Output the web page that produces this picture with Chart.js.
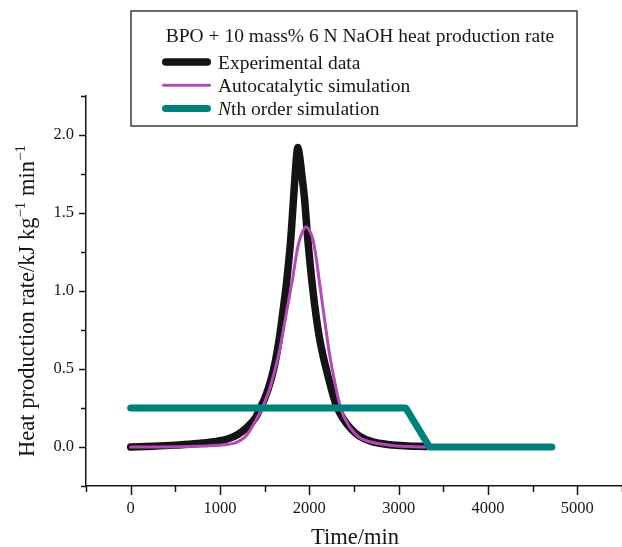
<!DOCTYPE html>
<html>
<head>
<meta charset="utf-8">
<title>BPO heat production rate</title>
<script src="https://cdn.jsdelivr.net/npm/chart.js@4/dist/chart.umd.min.js"></script>
<style>
  html, body { margin: 0; padding: 0; background: #fff; overflow: hidden; }
  /* a little wider than the window so the x axis runs off the right edge */
  #wrap { width: 626px; height: 547px; position: relative; }
</style>
</head>
<body>
<div id="wrap"><canvas id="heatChart"></canvas></div>
<script>
// experimental heat production rate (time in min, rate in kJ/kg/min)
const expTime = [0, 250, 500, 750, 1000, 1100, 1200, 1300, 1400, 1450, 1500, 1570, 1620, 1665, 1700, 1740, 1790, 1830, 1855, 1870, 1890, 1915, 1945, 1980, 2035, 2110, 2220, 2300, 2380, 2460, 2560, 2700, 2900, 3100, 3300];
const expRate = [0.0, 0.005, 0.012, 0.022, 0.04, 0.055, 0.08, 0.125, 0.19, 0.25, 0.31, 0.43, 0.55, 0.7, 0.85, 1.03, 1.32, 1.65, 1.85, 1.92, 1.87, 1.75, 1.6, 1.35, 1.03, 0.71, 0.43, 0.27, 0.18, 0.12, 0.07, 0.035, 0.015, 0.007, 0.003];

// autocatalytic model
const autoTime = [0, 1000, 1290, 1400, 1480, 1560, 1660, 1740, 1810, 1870, 1910, 1960, 2000, 2040, 2080, 2110, 2170, 2225, 2290, 2355, 2450, 2550, 2640, 2930, 3300];
const autoRate = [0.0, 0.012, 0.07, 0.17, 0.26, 0.38, 0.6, 0.85, 1.07, 1.28, 1.36, 1.41, 1.39, 1.33, 1.2, 1.07, 0.82, 0.6, 0.4, 0.24, 0.13, 0.065, 0.04, 0.01, 0.0];

// nth order model
const nthTime = [0, 3080, 3345, 4715];
const nthRate = [0.25, 0.25, 0.0, 0.0];

const seriesLabels = ['Experimental data', 'Autocatalytic simulation', 'Nth order simulation'];
const chartTitle = 'BPO + 10 mass% 6 N NaOH heat production rate';

const serif = "'Liberation Serif', 'Times New Roman', serif";
const ink = '#161616';

function pairs(xs, ys) {
  return xs.map((x, i) => ({ x: x, y: ys[i] }));
}

// tick marks (long at labelled values), axis titles and the boxed legend
const decorations = {
  id: 'decorations',
  afterDraw(chart) {
    const { ctx, chartArea, scales } = chart;
    const xs = scales.x, ys = scales.y;
    ctx.save();
    ctx.strokeStyle = ink;
    ctx.lineWidth = 1.5;

    xs.ticks.forEach(t => {
      const px = Math.round(xs.getPixelForValue(t.value)) + 0.5;
      const len = t.value % 1000 === 0 ? 9 : 6;
      ctx.beginPath();
      ctx.moveTo(px, chartArea.bottom);
      ctx.lineTo(px, chartArea.bottom + len);
      ctx.stroke();
    });
    ys.ticks.forEach(t => {
      const py = Math.round(ys.getPixelForValue(t.value)) + 0.5;
      const len = Math.abs(t.value * 2 - Math.round(t.value * 2)) < 1e-9 ? 7 : 5;
      ctx.beginPath();
      ctx.moveTo(chartArea.left, py);
      ctx.lineTo(chartArea.left - len, py);
      ctx.stroke();
    });

    // x title
    ctx.fillStyle = ink;
    ctx.font = '22.5px ' + serif;
    ctx.textAlign = 'center';
    ctx.textBaseline = 'alphabetic';
    ctx.fillText('Time/min', 355, 544);

    // y title with superscripts
    const parts = [
      { text: 'Heat production rate/kJ kg', sup: false },
      { text: '\u22121', sup: true },
      { text: ' min', sup: false },
      { text: '\u22121', sup: true }
    ];
    const mainFont = '22.5px ' + serif;
    const supFont = '15px ' + serif;
    let total = 0;
    parts.forEach(p => {
      ctx.font = p.sup ? supFont : mainFont;
      p.w = ctx.measureText(p.text).width;
      total += p.w;
    });
    ctx.translate(34, 301);
    ctx.rotate(-Math.PI / 2);
    ctx.textAlign = 'left';
    let cx = -total / 2;
    parts.forEach(p => {
      ctx.font = p.sup ? supFont : mainFont;
      ctx.fillText(p.text, cx, p.sup ? -9 : 0);
      cx += p.w;
    });
    ctx.setTransform(1, 0, 0, 1, 0, 0);

    // legend box
    const bx = 131, by = 11, bw = 446, bh = 115;
    ctx.fillStyle = '#fff';
    ctx.fillRect(bx, by, bw, bh);
    ctx.strokeStyle = '#3a3a3a';
    ctx.lineWidth = 1.5;
    ctx.strokeRect(bx, by, bw, bh);

    ctx.fillStyle = ink;
    ctx.font = '19.5px ' + serif;
    ctx.textAlign = 'center';
    ctx.fillText(chartTitle, bx + bw / 2 + 6, 42);

    ctx.textAlign = 'left';
    chart.data.datasets.forEach((ds, i) => {
      const rowY = 62 + i * 23.3;
      ctx.strokeStyle = ds.borderColor;
      ctx.lineWidth = ds.borderWidth;
      ctx.lineCap = 'round';
      const r = ds.borderWidth / 2;
      ctx.beginPath();
      ctx.moveTo(162 + r, rowY);
      ctx.lineTo(211 - r, rowY);
      ctx.stroke();

      let tx = 218;
      const ty = rowY + 6.5;
      ctx.fillStyle = ink;
      if (ds.italicLead) {
        const lead = ds.label.slice(0, ds.italicLead);
        ctx.font = 'italic 19.5px ' + serif;
        ctx.fillText(lead, tx, ty);
        tx += ctx.measureText(lead).width;
        ctx.font = '19.5px ' + serif;
        ctx.fillText(ds.label.slice(ds.italicLead), tx, ty);
      } else {
        ctx.font = '19.5px ' + serif;
        ctx.fillText(ds.label, tx, ty);
      }
    });
    ctx.restore();
  }
};

const ctx = document.getElementById('heatChart').getContext('2d');
new Chart(ctx, {
  type: 'line',
  data: {
    datasets: [
      {
        label: seriesLabels[0],
        data: pairs(expTime, expRate),
        borderColor: '#141414',
        borderWidth: 7.5,
        borderCapStyle: 'round',
        borderJoinStyle: 'round',
        cubicInterpolationMode: 'monotone',
        pointRadius: 0,
        order: 3
      },
      {
        label: seriesLabels[1],
        data: pairs(autoTime, autoRate),
        borderColor: '#b848b6',
        borderWidth: 3,
        borderCapStyle: 'round',
        borderJoinStyle: 'round',
        cubicInterpolationMode: 'monotone',
        pointRadius: 0,
        order: 2
      },
      {
        label: seriesLabels[2],
        italicLead: 1,
        data: pairs(nthTime, nthRate),
        borderColor: '#00807d',
        borderWidth: 7,
        borderCapStyle: 'round',
        borderJoinStyle: 'round',
        tension: 0,
        pointRadius: 0,
        order: 1
      }
    ]
  },
  options: {
    responsive: true,
    maintainAspectRatio: false,
    animation: false,
    devicePixelRatio: 1,
    layout: { padding: { top: 96, left: 0, right: 0, bottom: 0 } },
    plugins: {
      legend: { display: false },
      tooltip: { enabled: false },
      title: { display: false }
    },
    scales: {
      x: {
        type: 'linear',
        min: -500,
        max: 5500,
        afterFit(scale) { scale.height = 61; },
        border: { color: ink, width: 1.5 },
        grid: { drawOnChartArea: false, drawTicks: true, tickLength: 9, tickColor: 'rgba(0,0,0,0)' },
        ticks: {
          stepSize: 500,
          autoSkip: false,
          maxRotation: 0,
          padding: 4,
          color: ink,
          font: { family: serif, size: 16.5 },
          callback: v => (v >= 0 && v % 1000 === 0) ? String(v) : ''
        }
      },
      y: {
        min: -0.25,
        max: 2.25,
        afterFit(scale) { scale.width = 86; },
        border: { color: ink, width: 1.5 },
        grid: { drawOnChartArea: false, drawTicks: true, tickLength: 7, tickColor: 'rgba(0,0,0,0)' },
        ticks: {
          stepSize: 0.25,
          autoSkip: false,
          padding: 5,
          color: ink,
          font: { family: serif, size: 16.5 },
          callback: v => (v >= 0 && Math.abs(v * 2 - Math.round(v * 2)) < 1e-9) ? v.toFixed(1) : ''
        }
      }
    }
  },
  plugins: [decorations]
});
</script>
</body>
</html>
